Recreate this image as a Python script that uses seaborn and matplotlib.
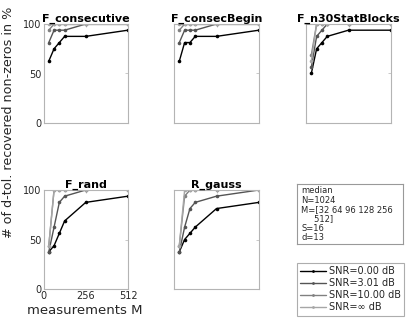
import numpy as np
import pandas as pd
import matplotlib
matplotlib.use('Agg')
import matplotlib.pyplot as plt
import seaborn as sns

W, H = 407, 321

M_VALUES = [32, 64, 96, 128, 256, 512]
SNR_LABELS = ['SNR=0.00 dB', 'SNR=3.01 dB', 'SNR=10.00 dB', 'SNR=\u221e dB']
SNR_COLORS = ['#000000', '#545454', '#808080', '#a6a6a6']
PANELS = ['F_consecutive', 'F_consecBegin', 'F_n30StatBlocks', 'F_rand', 'R_gauss']

# recovered non-zeros in %, one list per SNR level (0, 3.01, 10, inf dB)
f_consecutive = [
    [62.5, 75, 81.25, 87.5, 87.5, 93.75],
    [81.25, 93.75, 93.75, 93.75, 100, 100],
    [93.75, 100, 100, 100, 100, 100],
    [100, 100, 100, 100, 100, 100],
]
f_consecbegin = [
    [62.5, 81.25, 81.25, 87.5, 87.5, 93.75],
    [81.25, 93.75, 93.75, 93.75, 100, 100],
    [93.75, 100, 100, 100, 100, 100],
    [100, 100, 100, 100, 100, 100],
]
f_n30statblocks = [
    [50, 75, 81.25, 87.5, 93.75, 93.75],
    [56.25, 87.5, 93.75, 100, 100, 100],
    [68.75, 100, 100, 100, 100, 100],
    [62.5, 100, 100, 100, 100, 100],
]
f_rand = [
    [37.5, 43.75, 56.25, 68.75, 87.5, 93.75],
    [37.5, 62.5, 87.5, 93.75, 100, 100],
    [43.75, 100, 100, 100, 100, 100],
    [43.75, 100, 100, 100, 100, 100],
]
r_gauss = [
    [37.5, 50, 56.25, 62.5, 81.25, 87.5],
    [37.5, 62.5, 81.25, 87.5, 93.75, 100],
    [43.75, 93.75, 100, 100, 100, 100],
    [43.75, 100, 100, 100, 100, 100],
]
PANEL_DATA = [f_consecutive, f_consecbegin, f_n30statblocks, f_rand, r_gauss]

INFO_TEXT = 'median\nN=1024\nM=[32 64 96 128 256\n     512]\nS=16\nd=13'

rows = []
for name, series in zip(PANELS, PANEL_DATA):
    for snr, vals in zip(SNR_LABELS, series):
        for m, v in zip(M_VALUES, vals):
            rows.append({'panel': name, 'M': m, 'SNR': snr, 'value': v})
df = pd.DataFrame(rows)

sns.set_style('white')
plt.rcParams['font.family'] = ['DejaVu Sans']

fig = plt.figure(figsize=(W / 100, H / 100), dpi=100)

def px_axes(left, top, right, bottom):
    return fig.add_axes([left / W, 1 - bottom / H, (right - left) / W, (bottom - top) / H])

boxes = [
    (43.5, 24, 128, 123), (174, 24, 259, 123), (306, 24, 391, 123),
    (43.5, 190, 128, 289), (174, 190, 259, 289),
]
spine_c = '#b4b4b4'
tick_c = '#262626'
palette = dict(zip(SNR_LABELS, SNR_COLORS))

for i, (name, box) in enumerate(zip(PANELS, boxes)):
    ax = px_axes(*box)
    sub = df[df.panel == name]
    sns.lineplot(data=sub, x='M', y='value', hue='SNR', hue_order=SNR_LABELS,
                 palette=palette, marker='o', markersize=2.6, markeredgewidth=0,
                 linewidth=1.0, legend=False, ax=ax)
    ax.set_xlim(0, 512)
    ax.set_ylim(0, 100)
    ax.set_xticks([0, 256, 512])
    ax.set_yticks([0, 50, 100])
    ax.tick_params(direction='in', top=True, right=True, length=2, width=0.5,
                   colors=spine_c, labelcolor=tick_c, labelsize=7, pad=1.5)
    for s in ax.spines.values():
        s.set_color(spine_c)
        s.set_linewidth(0.8)
    ax.set_xlabel('')
    ax.set_ylabel('')
    if i != 3:
        ax.set_xticklabels([])
    if i not in (0, 3):
        ax.set_yticklabels([])
    ax.set_title(name, fontsize=8, fontweight='bold', pad=1.5, color='black')

fig.text(9 / W, 1 - 122 / H, '# of d-tol. recovered non-zeros in %', rotation=90,
         ha='center', va='center', fontsize=9.2, color=tick_c)
fig.text(85 / W, 1 - 311 / H, 'measurements M', ha='center', va='center',
         fontsize=9.5, color=tick_c)

# info box
tax = px_axes(297, 184, 403, 244)
tax.set_xticks([])
tax.set_yticks([])
for s in tax.spines.values():
    s.set_color('#999999')
    s.set_linewidth(0.8)
tax.text(0.04, 0.96, INFO_TEXT, transform=tax.transAxes, ha='left', va='top',
         fontsize=6, linespacing=1.05, color=tick_c)

# legend
handles = [plt.Line2D([], [], color=c, lw=1.0, marker='o', markersize=2.0,
                      markeredgewidth=0) for c in SNR_COLORS]
leg = fig.legend(handles, SNR_LABELS, loc='upper left',
                 bbox_to_anchor=(297 / W, 1 - 263 / H), fontsize=7,
                 frameon=True, fancybox=False, handlelength=2.6,
                 handletextpad=0.35, labelspacing=0.2, borderpad=0.35,
                 borderaxespad=0)
leg.get_frame().set_edgecolor('#999999')
leg.get_frame().set_linewidth(0.8)
for t in leg.get_texts():
    t.set_color(tick_c)

fig.savefig('out.png', dpi=100)
